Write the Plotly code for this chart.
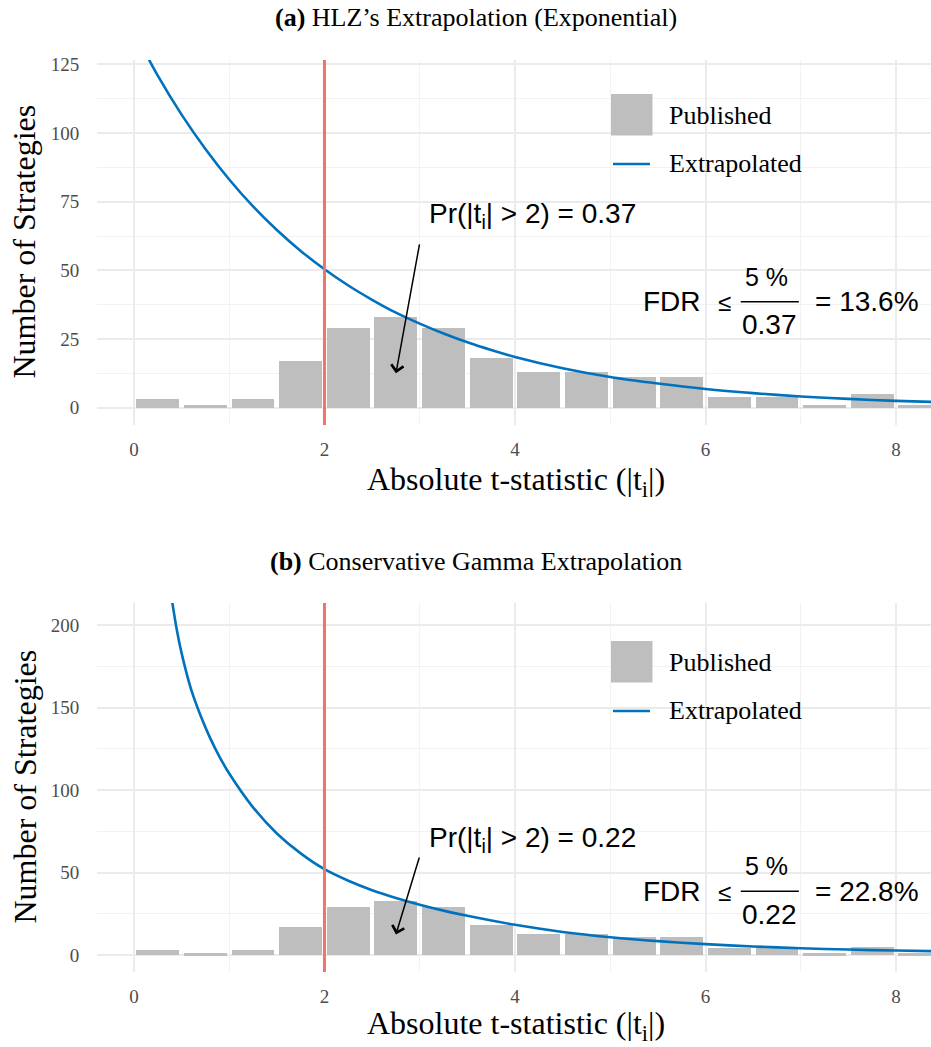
import plotly.graph_objects as go

# ---------------- data ----------------
bin_centers = [0.25, 0.75, 1.25, 1.75, 2.25, 2.75, 3.25, 3.75, 4.25, 4.75,
               5.25, 5.75, 6.25, 6.75, 7.25, 7.75, 8.25]
published = [3, 1, 3, 17, 29, 33, 29, 18, 13, 13, 11, 11, 4, 4, 1, 5, 1]

exp_x = [0, 0.25, 0.5, 0.75, 1.0, 1.25, 1.5, 1.75, 2.0, 2.25, 2.5, 2.75, 3.0,
         3.25, 3.5, 3.75, 4.0, 4.5, 5.0, 5.5, 6.0, 6.5, 7.0, 7.5, 8.0, 8.5]
exp_y = [137.0, 120.9, 106.7, 94.2, 83.1, 73.3, 64.7, 57.1, 50.4, 44.5, 39.3,
         34.6, 30.6, 27.0, 23.8, 21.0, 18.5, 14.4, 11.2, 8.8, 6.8, 5.3, 4.1,
         3.2, 2.5, 2.0]

gam_x = [0.38, 0.45, 0.5, 0.6, 0.7, 0.8, 0.9, 1.0, 1.25, 1.5, 1.75, 2.0, 2.25,
         2.5, 2.75, 3.0, 3.25, 3.5, 4.0, 4.5, 5.0, 5.5, 6.0, 6.5, 7.0, 7.5,
         8.0, 8.5]
gam_y = [222, 197, 183, 161, 145, 131.5, 120, 110, 89.5, 73.7, 61.6, 52, 45.0,
         39.3, 34.6, 30.5, 26.9, 23.8, 18.3, 14.0, 10.8, 8.4, 6.6, 5.2, 4.1,
         3.3, 2.7, 2.2]

panel_titles = ["<b>(a)</b> HLZ’s Extrapolation (Exponential)",
                "<b>(b)</b> Conservative Gamma Extrapolation"]
pr_values = ["0.37", "0.22"]
fdr_values = ["13.6%", "22.8%"]
threshold = 2
x_ticks = [0, 2, 4, 6, 8]
y_ticks_a = [0, 25, 50, 75, 100, 125]
y_ticks_b = [0, 50, 100, 150, 200]

# ---------------- styling ----------------
W, H = 931, 1047
ML = 97
PW = W - ML
SERIF = "Liberation Serif"
SANS = "Liberation Sans"
BAR_COLOR = "#BEBEBE"
LINE_COLOR = "#0072BD"
RED = "#F0736C"
GRID = "#EBEBEB"
TICK_GREY = "#4D4D4D"


def pxx(x):
    return (x - ML) / PW


def pxy(y):
    return 1 - y / H


fig = go.Figure()

panels = [
    dict(xa="x", ya="y", curve_x=exp_x, curve_y=exp_y, top=60, bottom=425,
         yrange=[-6.3, 126.6], yticks=y_ticks_a, ydt=12.5, leg=0, xt=56),
    dict(xa="x2", ya="y2", curve_x=gam_x, curve_y=gam_y, top=603, bottom=972,
         yrange=[-10.3, 213.4], yticks=y_ticks_b, ydt=25, leg=4, xt=53),
]

layout_axes = {}
annotations = []
shapes = []

for i, p in enumerate(panels):
    fig.add_trace(go.Bar(x=bin_centers, y=published, width=0.45,
                         marker=dict(color=BAR_COLOR, line=dict(width=0)),
                         xaxis=p["xa"], yaxis=p["ya"], showlegend=False))
    fig.add_trace(go.Scatter(x=p["curve_x"], y=p["curve_y"], mode="lines",
                             line=dict(color=LINE_COLOR, width=2.6, shape="spline",
                                       smoothing=0.8),
                             xaxis=p["xa"], yaxis=p["ya"], showlegend=False))

    xname = "xaxis" if p["xa"] == "x" else "xaxis2"
    yname = "yaxis" if p["ya"] == "y" else "yaxis2"
    layout_axes[xname] = dict(
        domain=[0, 1], anchor=p["ya"], range=[-0.388, 8.367],
        tickvals=x_ticks, ticktext=[str(v) for v in x_ticks],
        showgrid=True, gridcolor=GRID, gridwidth=1.8,
        minor=dict(dtick=1, tick0=0, showgrid=True, gridcolor="#F2F2F2", gridwidth=1.2),
        zeroline=False, showline=False,
        ticks="outside", ticklen=7, tickcolor="rgba(0,0,0,0)",
        tickfont=dict(family=SERIF, size=19, color=TICK_GREY),
        fixedrange=True,
    )
    layout_axes[yname] = dict(
        domain=[pxy(p["bottom"]), pxy(p["top"])], anchor=p["xa"],
        range=p["yrange"], tickvals=p["yticks"],
        ticktext=[str(v) for v in p["yticks"]],
        showgrid=True, gridcolor=GRID, gridwidth=1.8,
        minor=dict(dtick=p["ydt"], tick0=0, showgrid=True, gridcolor="#F2F2F2", gridwidth=1.2),
        zeroline=False, showline=False,
        ticks="outside", ticklen=13, tickcolor="rgba(0,0,0,0)",
        tickfont=dict(family=SERIF, size=19, color=TICK_GREY),
        fixedrange=True,
    )

    # threshold line
    shapes.append(dict(type="line", xref=p["xa"], yref=p["ya"] + " domain",
                       x0=threshold, x1=threshold, y0=0, y1=1,
                       line=dict(color=RED, width=3), layer="above"))

    # panel title
    annotations.append(dict(text=panel_titles[i], xref="paper", yref="paper",
                            x=pxx(476), y=pxy(p["top"] - 42), showarrow=False,
                            xanchor="center", yanchor="middle",
                            font=dict(family=SERIF, size=26, color="black")))
    # axis titles
    annotations.append(dict(text="Absolute t-statistic (|t<sub>i</sub>|)",
                            xref="paper", yref="paper",
                            x=pxx(516), y=pxy(p["bottom"] + p["xt"]), showarrow=False,
                            xanchor="center", yanchor="middle",
                            font=dict(family=SERIF, size=32, color="black")))
    annotations.append(dict(text="Number of Strategies", textangle=-90,
                            xref="paper", yref="paper",
                            x=pxx(24), y=pxy((p["top"] + p["bottom"]) / 2 - 1),
                            showarrow=False, xanchor="center", yanchor="middle",
                            font=dict(family=SERIF, size=32, color="black")))

    # legend (drawn)
    off = p["top"] + p["leg"]
    shapes.append(dict(type="rect", xref="paper", yref="paper",
                       x0=pxx(611), x1=pxx(652.5),
                       y0=pxy(off + 34), y1=pxy(off + 75.5),
                       fillcolor=BAR_COLOR, line=dict(width=0)))
    shapes.append(dict(type="line", xref="paper", yref="paper",
                       x0=pxx(613), x1=pxx(650),
                       y0=pxy(off + 104), y1=pxy(off + 104),
                       line=dict(color=LINE_COLOR, width=2.6)))
    annotations.append(dict(text="Published", xref="paper", yref="paper",
                            x=pxx(667), y=pxy(off + 55), showarrow=False,
                            xanchor="left", yanchor="middle",
                            font=dict(family=SERIF, size=26, color="black")))
    annotations.append(dict(text="Extrapolated", xref="paper", yref="paper",
                            x=pxx(667), y=pxy(off + 103), showarrow=False,
                            xanchor="left", yanchor="middle",
                            font=dict(family=SERIF, size=26, color="black")))

    # Pr annotation + arrow
    annotations.append(dict(text="Pr(|t<sub>i</sub>| > 2) = " + pr_values[i],
                            xref=p["xa"], yref=p["ya"], x=3.08, y=70,
                            showarrow=False, xanchor="left", yanchor="middle",
                            font=dict(family=SANS, size=28, color="black")))
    annotations.append(dict(text="", xref=p["xa"], yref=p["ya"], x=2.75, y=12.5,
                            axref=p["xa"], ayref=p["ya"], ax=3.0, ay=60,
                            showarrow=True, arrowhead=4, arrowsize=1.6,
                            arrowwidth=1.5, arrowcolor="black"))

    # FDR expression
    fy = 38.6
    annotations.append(dict(text="FDR", xref=p["xa"], yref=p["ya"], x=5.65, y=fy,
                            showarrow=False, xanchor="center", yanchor="middle",
                            font=dict(family=SANS, size=28, color="black")))
    annotations.append(dict(text="≤", xref=p["xa"], yref=p["ya"], x=6.2, y=fy,
                            yshift=-1, showarrow=False, xanchor="center", yanchor="middle",
                            font=dict(family=SANS, size=24, color="black")))
    annotations.append(dict(text="5 %", xref=p["xa"], yref=p["ya"], x=6.64, y=fy,
                            yshift=25, showarrow=False, xanchor="center", yanchor="middle",
                            font=dict(family=SANS, size=25, color="black")))
    annotations.append(dict(text=pr_values[i], xref=p["xa"], yref=p["ya"], x=6.67, y=fy,
                            yshift=-23, showarrow=False, xanchor="center", yanchor="middle",
                            font=dict(family=SANS, size=28, color="black")))
    shapes.append(dict(type="line", xref=p["xa"], yref=p["ya"],
                       x0=6.37, x1=6.98, y0=fy, y1=fy,
                       line=dict(color="black", width=1.5)))
    annotations.append(dict(text="= " + fdr_values[i], xref=p["xa"], yref=p["ya"],
                            x=7.70, y=fy, showarrow=False, xanchor="center",
                            yanchor="middle",
                            font=dict(family=SANS, size=28, color="black")))

fig.update_layout(
    width=W, height=H,
    margin=dict(l=ML, r=0, t=0, b=0, autoexpand=False),
    paper_bgcolor="white", plot_bgcolor="white",
    bargap=0, showlegend=False,
    annotations=annotations, shapes=shapes,
    **layout_axes,
)

fig.write_html(
    "out.html",
    config={"displayModeBar": False},
    post_script="document.body.style.margin='0px';document.body.style.overflow='hidden';",
)
